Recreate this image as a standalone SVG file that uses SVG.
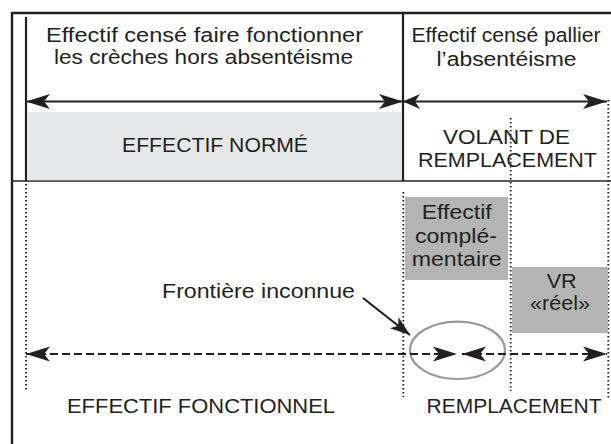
<svg xmlns="http://www.w3.org/2000/svg" width="611" height="444" viewBox="0 0 611 444">
  <style>
    .txt { font-family: "Liberation Sans", Arial, sans-serif; font-size: 20px; fill: #231f20; text-anchor: middle; }
    .frame { stroke: #231f20; fill: none; }
    .dot { stroke: #231f20; stroke-width: 1.8; stroke-dasharray: 1.6 2.4; fill: none; }
    .solid { stroke: #231f20; stroke-width: 2.2; fill: none; }
    .dash { stroke: #231f20; stroke-width: 2.2; stroke-dasharray: 8 4; fill: none; }
    .grey { fill: #b4b4b4; }
  </style>
  <defs>
    <marker id="head" markerUnits="userSpaceOnUse" viewBox="-25 -8 26 16" markerWidth="26" markerHeight="16" refX="0" refY="0" orient="auto-start-reverse">
      <path d="M0,0 L-24,-7.5 L-18,0 L-24,7.5 Z" fill="#231f20"/>
    </marker>
    <marker id="headS" markerUnits="userSpaceOnUse" viewBox="-25 -8 26 16" markerWidth="26" markerHeight="16" refX="0" refY="0" orient="auto-start-reverse">
      <path d="M0,0 L-17,-7.5 L-12,0 L-17,7.5 Z" fill="#231f20"/>
    </marker>
    <marker id="headF" markerUnits="userSpaceOnUse" viewBox="-22 -8 23 16" markerWidth="23" markerHeight="16" refX="0" refY="0" orient="auto">
      <path d="M0,0 L-20,-7 L-15,0 L-20,7 Z" fill="#231f20"/>
    </marker>
  </defs>

  <!-- background -->
  <rect x="0" y="0" width="611" height="444" fill="#ffffff"/>

  <!-- frame and column separators -->
  <g id="frame">
    <line class="frame" x1="12" y1="13" x2="611" y2="13" stroke-width="2.4"/>
    <line class="frame" x1="12" y1="12" x2="12" y2="444" stroke-width="2.4"/>
    <line class="frame" x1="12" y1="181" x2="611" y2="181" stroke-width="1.6"/>
    <line class="frame" x1="26" y1="17" x2="26" y2="181" stroke-width="2.2"/>
    <line class="frame" x1="403" y1="13" x2="403" y2="181" stroke-width="2.2"/>
  </g>

  <!-- top headers -->
  <g id="header-normal">
    <text class="txt" x="204.5" y="41.5" textLength="317" lengthAdjust="spacingAndGlyphs">Effectif censé faire fonctionner</text>
    <text class="txt" x="203.5" y="64" textLength="299" lengthAdjust="spacingAndGlyphs">les crèches hors absentéisme</text>
  </g>
  <g id="header-absence">
    <text class="txt" x="506" y="42" textLength="189" lengthAdjust="spacingAndGlyphs">Effectif censé pallier</text>
    <text class="txt" x="506.5" y="65.5" textLength="140" lengthAdjust="spacingAndGlyphs">l’absentéisme</text>
  </g>

  <!-- effectif normé -->
  <g id="effectif-norme">
    <rect x="27.1" y="112" width="374.8" height="68.2" fill="#e6e7e8"/>
    <text class="txt" x="215" y="152" font-size="21" textLength="186" lengthAdjust="spacingAndGlyphs">EFFECTIF NORMÉ</text>
  </g>

  <!-- dotted guides -->
  <g id="guides">
    <line class="dot" x1="26" y1="184" x2="26" y2="391"/>
    <line class="dot" x1="403.3" y1="192" x2="403.3" y2="397"/>
    <line class="dot" x1="510.7" y1="118" x2="510.7" y2="391"/>
    <line class="dot" x1="608.3" y1="100" x2="608.3" y2="400"/>
  </g>

  <!-- volant de remplacement -->
  <g id="volant">
    <text class="txt" x="506.5" y="143.5" textLength="127" lengthAdjust="spacingAndGlyphs">VOLANT DE</text>
    <text class="txt" x="507.5" y="166.5" textLength="179" lengthAdjust="spacingAndGlyphs">REMPLACEMENT</text>
  </g>

  <!-- grey boxes -->
  <g id="effectif-complementaire">
    <rect class="grey" x="405" y="197" width="103" height="83"/>
    <text class="txt" x="456.7" y="219" textLength="70" lengthAdjust="spacingAndGlyphs">Effectif</text>
    <text class="txt" x="456" y="242.5" textLength="82" lengthAdjust="spacingAndGlyphs">complé-</text>
    <text class="txt" x="456.7" y="266" textLength="90" lengthAdjust="spacingAndGlyphs">mentaire</text>
  </g>
  <g id="vr-reel">
    <rect class="grey" x="512" y="267" width="96" height="66"/>
    <text class="txt" x="561.7" y="288" font-size="19" textLength="30" lengthAdjust="spacingAndGlyphs">VR</text>
    <text class="txt" x="560" y="310" font-size="19" textLength="60" lengthAdjust="spacingAndGlyphs">«réel»</text>
  </g>

  <!-- label and boundary ellipse -->
  <g id="frontiere">
    <text class="txt" x="258.5" y="298" textLength="193" lengthAdjust="spacingAndGlyphs">Frontière inconnue</text>
    <ellipse cx="457.5" cy="350.3" rx="47.5" ry="28.7" fill="none" stroke="#9a9a9a" stroke-width="2.2"/>
  </g>

  <!-- bottom labels -->
  <g id="bottom-labels">
    <text class="txt" x="201" y="413" font-size="21" textLength="268" lengthAdjust="spacingAndGlyphs">EFFECTIF FONCTIONNEL</text>
    <text class="txt" x="514" y="413" font-size="21" textLength="175" lengthAdjust="spacingAndGlyphs">REMPLACEMENT</text>
  </g>

  <!-- connectors -->
  <g id="connectors">
    <line class="solid" x1="26" y1="101.5" x2="403" y2="101.5" marker-start="url(#head)" marker-end="url(#head)"/>
    <line class="solid" x1="403" y1="101.5" x2="607" y2="101.5" marker-start="url(#headS)" marker-end="url(#head)"/>
    <line class="dash" x1="26" y1="354" x2="457" y2="354" marker-start="url(#head)" marker-end="url(#head)"/>
    <line class="dash" x1="462" y1="354" x2="607" y2="354" marker-start="url(#head)" marker-end="url(#head)"/>
    <line class="solid" x1="363" y1="298" x2="410" y2="335" marker-end="url(#headF)"/>
  </g>
</svg>
